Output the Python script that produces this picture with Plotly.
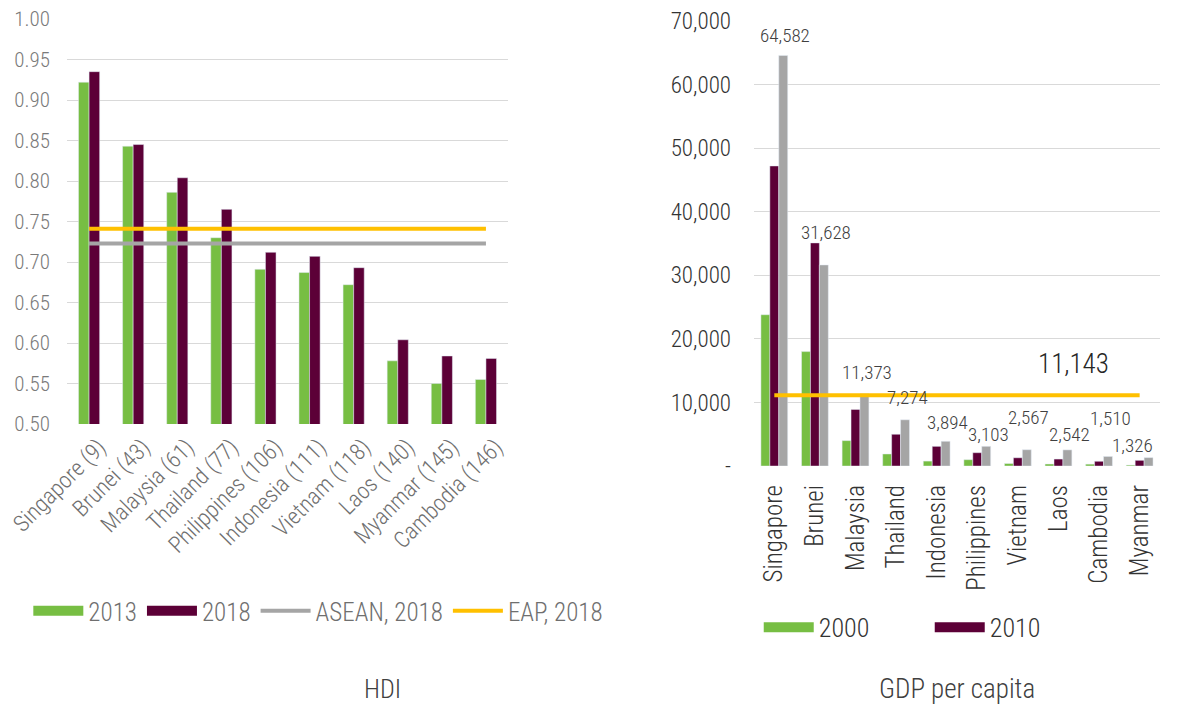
import plotly.graph_objects as go

# ---------------- HDI data ----------------
hdi_countries = ["Singapore (9)", "Brunei (43)", "Malaysia (61)", "Thailand (77)",
                 "Philippines (106)", "Indonesia (111)", "Vietnam (118)", "Laos (140)",
                 "Myanmar (145)", "Cambodia (146)"]
hdi_2013 = [0.922, 0.843, 0.786, 0.730, 0.691, 0.687, 0.672, 0.578, 0.550, 0.555]
hdi_2018 = [0.935, 0.845, 0.804, 0.765, 0.712, 0.707, 0.693, 0.604, 0.584, 0.581]
hdi_asean_2018 = 0.723
hdi_eap_2018 = 0.741
hdi_ticks = [0.50, 0.55, 0.60, 0.65, 0.70, 0.75, 0.80, 0.85, 0.90, 0.95, 1.00]

# ---------------- GDP per capita data ----------------
gdp_countries = ["Singapore", "Brunei", "Malaysia", "Thailand", "Indonesia",
                 "Philippines", "Vietnam", "Laos", "Cambodia", "Myanmar"]
gdp_2000 = [23800, 18000, 4000, 1900, 780, 1000, 400, 320, 300, 150]
gdp_2010 = [47200, 35100, 8900, 5000, 3100, 2100, 1300, 1100, 750, 900]
gdp_latest = [64582, 31628, 11373, 7274, 3894, 3103, 2567, 2542, 1510, 1326]
gdp_eap = 11143
gdp_tickvals = [0, 10000, 20000, 30000, 40000, 50000, 60000, 70000]
gdp_ticktext = ["-", "10,000", "20,000", "30,000", "40,000", "50,000", "60,000", "70,000"]

# label placement offsets (pixels) for the data labels on the grey bars
label_xshift = [11, 11, 11, 11, 11, 11, 11, 11, 11, -7]
label_yshift = [20, 32, 21, 22, 19, 12, 32, 15, 38, 12]

GREEN = "#77BE43"
MAROON = "#5C0037"
GREY = "#A5A5A5"
YELLOW = "#FFC000"
FONT = "'Roboto Condensed', 'DejaVu Sans Condensed', 'Liberation Sans Narrow', Roboto, sans-serif"

fig = go.Figure()

# ---- left chart: HDI ----
fig.add_trace(go.Bar(x=hdi_countries, y=hdi_2013, marker_color=GREEN, name="2013",
                     xaxis="x", yaxis="y", showlegend=False, width=0.24, offset=-0.24))
fig.add_trace(go.Bar(x=hdi_countries, y=hdi_2018, marker_color=MAROON, name="2018",
                     xaxis="x", yaxis="y", showlegend=False, width=0.24, offset=0.0))
fig.add_trace(go.Scatter(x=hdi_countries, y=[hdi_asean_2018] * len(hdi_countries),
                         mode="lines", line=dict(color=GREY, width=4),
                         name="ASEAN, 2018", xaxis="x", yaxis="y", showlegend=False))
fig.add_trace(go.Scatter(x=hdi_countries, y=[hdi_eap_2018] * len(hdi_countries),
                         mode="lines", line=dict(color=YELLOW, width=4),
                         name="EAP, 2018", xaxis="x", yaxis="y", showlegend=False))

# legend entries (left)
for nm, col, w in [("2013", GREEN, 13), ("2018", MAROON, 13),
                   ("ASEAN, 2018", GREY, 4), ("EAP, 2018", YELLOW, 4)]:
    fig.add_trace(go.Scatter(x=[None], y=[None], mode="lines", name=nm,
                             line=dict(color=col, width=w), xaxis="x", yaxis="y",
                             legend="legend", showlegend=True))

# ---- right chart: GDP per capita ----
for vals, col, nm, off in [(gdp_2000, GREEN, "2000", -0.33), (gdp_2010, MAROON, "2010", -0.11),
                           (gdp_latest, GREY, "latest", 0.11)]:
    fig.add_trace(go.Bar(x=gdp_countries, y=vals, marker_color=col, name=nm,
                         xaxis="x2", yaxis="y2", showlegend=False, width=0.22, offset=off))
fig.add_trace(go.Scatter(x=gdp_countries, y=[gdp_eap] * len(gdp_countries),
                         mode="lines", line=dict(color=YELLOW, width=4),
                         name="EAP", xaxis="x2", yaxis="y2", showlegend=False))

for nm, col in [("2000", GREEN), ("2010", MAROON)]:
    fig.add_trace(go.Scatter(x=[None], y=[None], mode="lines", name=nm,
                             line=dict(color=col, width=13), xaxis="x2", yaxis="y2",
                             legend="legend2", showlegend=True))

annotations = []
for c, v, xs, ys in zip(gdp_countries, gdp_latest, label_xshift, label_yshift):
    annotations.append(dict(x=c, y=v, xref="x2", yref="y2", text=f"{v:,}",
                            showarrow=False, xshift=xs, yshift=ys, yanchor="middle",
                            xanchor="center",
                            font=dict(family=FONT, size=19, color="#404040")))
annotations.append(dict(x="Laos", y=gdp_eap, xref="x2", yref="y2", text=f"{gdp_eap:,}",
                        showarrow=False, xshift=15, yshift=31, yanchor="middle",
                        xanchor="center",
                        font=dict(family=FONT, size=27, color="#262626")))
annotations.append(dict(x=0.3245, y=0.0213, xref="paper", yref="paper", text="HDI",
                        showarrow=False, xanchor="center", yanchor="middle",
                        font=dict(family=FONT, size=26, color="#404040")))
annotations.append(dict(x=0.811, y=0.0213, xref="paper", yref="paper", text="GDP per capita",
                        showarrow=False, xanchor="center", yanchor="middle",
                        font=dict(family=FONT, size=27, color="#404040")))

fig.update_layout(
    width=1180, height=704,
    margin=dict(l=0, r=0, t=0, b=0),
    paper_bgcolor="white", plot_bgcolor="white",
    font=dict(family=FONT, color="#404040", weight=300),
    barmode="group",
    xaxis=dict(domain=[0.0568, 0.4305], anchor="y", tickangle=-45,
               tickfont=dict(size=23, color="#6f6f6f"), showgrid=False,
               showline=False, ticks="", ticklabelstandoff=4, ticklabelshift=10,
               automargin=False),
    yaxis=dict(domain=[0.3977, 0.973], anchor="x", range=[0.5, 1.0],
               tickvals=hdi_ticks, tickformat=".2f",
               tickfont=dict(size=21, color="#7a7a7a"), gridcolor="#D9D9D9",
               gridwidth=1, zeroline=False, showline=False, ticks="",
               ticklabelstandoff=16, automargin=False),
    xaxis2=dict(domain=[0.639, 0.983], anchor="y2", tickangle=-90,
                tickfont=dict(size=25, color="#333333"), showgrid=False,
                showline=False, ticks="", ticklabelstandoff=13, automargin=False),
    yaxis2=dict(domain=[0.338, 0.9702], anchor="x2", range=[0, 70000],
                tickvals=gdp_tickvals, ticktext=gdp_ticktext,
                tickfont=dict(size=23, color="#333333"), gridcolor="#D9D9D9",
                gridwidth=1, zeroline=False, showline=False, ticks="",
                ticklabelstandoff=22, automargin=False),
    legend=dict(orientation="h", x=0.024, xanchor="left", y=0.132, yanchor="middle",
                font=dict(size=25, color="#6f6f6f"), itemwidth=50,
                bgcolor="rgba(0,0,0,0)"),
    legend2=dict(orientation="h", x=0.643, xanchor="left", y=0.109, yanchor="middle",
                 font=dict(size=26, color="#333333"), entrywidth=106, itemwidth=50,
                 entrywidthmode="pixels", bgcolor="rgba(0,0,0,0)"),
    annotations=annotations,
)

fig.write_html("out.html", config={"displayModeBar": False},
               post_script="document.body.style.margin='0';document.body.style.padding='0';")
